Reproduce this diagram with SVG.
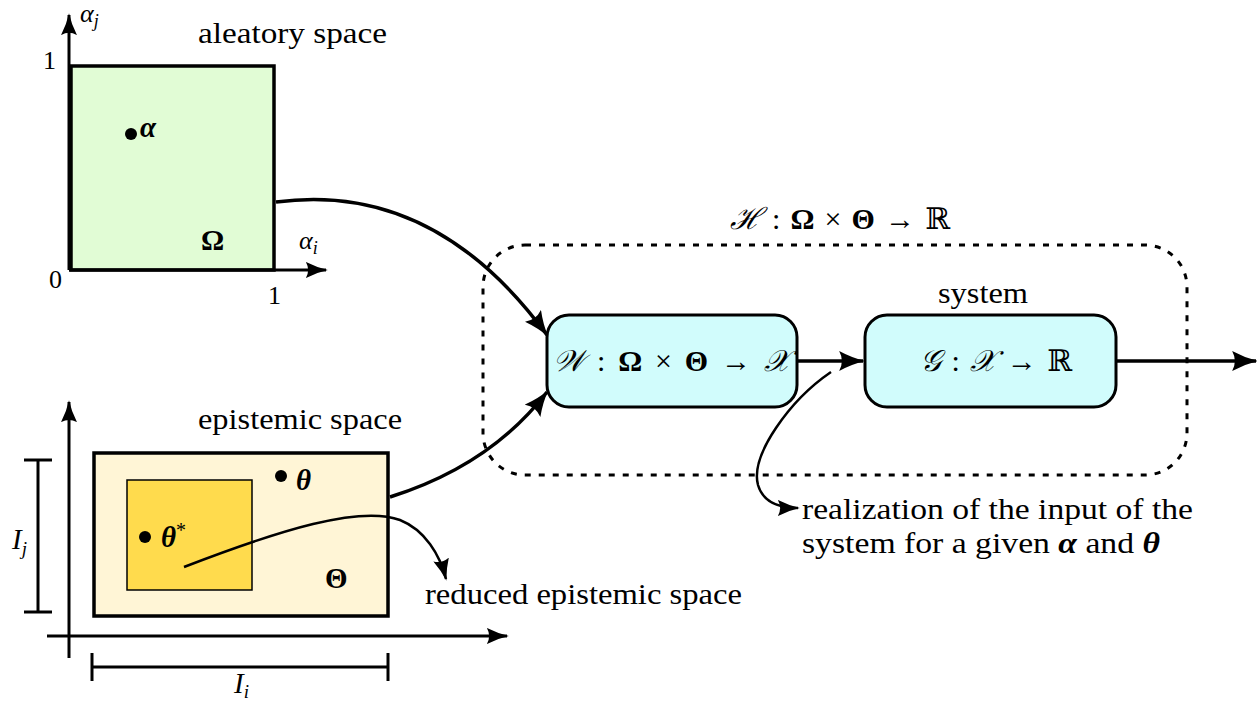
<svg xmlns="http://www.w3.org/2000/svg" width="1257" height="702" viewBox="0 0 1257 702" font-family="'Liberation Serif', serif">
<style>
text{font-family:"Liberation Serif","DejaVu Serif",serif;font-size:29px;fill:#000}
.s{font-size:26px}
.mt{font-size:30px}
.m{font-style:italic}
.b{font-weight:bold}
.bi{font-weight:bold;font-style:italic}
.ax{stroke:#000;stroke-width:3;fill:none}
.th{stroke:#000;stroke-width:3.5;fill:none}
.tn{stroke:#000;stroke-width:2.5;fill:none}
</style>
<defs>
<marker id="ahL" viewBox="0 0 12 10" refX="11" refY="5" markerWidth="26" markerHeight="20" markerUnits="userSpaceOnUse" orient="auto" preserveAspectRatio="none">
<path d="M0,0 Q6,3.5 12,5 Q6,6.5 0,10 Q2.5,5 0,0 Z" fill="#000"/>
</marker>
<marker id="ahS" viewBox="0 0 12 10" refX="11" refY="5" markerWidth="22" markerHeight="16" markerUnits="userSpaceOnUse" orient="auto" preserveAspectRatio="none">
<path d="M0,0 Q6,3.5 12,5 Q6,6.5 0,10 Q2.5,5 0,0 Z" fill="#000"/>
</marker>
</defs>

<g id="aleatory">
<rect x="71" y="66" width="203" height="204" fill="#e1fcd5" stroke="#000" stroke-width="3.5"/>
<line class="ax" x1="69" y1="270" x2="69" y2="15" marker-end="url(#ahS)"/>
<line class="ax" x1="69" y1="270" x2="326" y2="270" marker-end="url(#ahS)"/>
<text x="80" y="22" class="s m">α<tspan font-size="18" dy="5">j</tspan></text>
<text x="43" y="69" class="s">1</text>
<text x="49" y="288" class="s">0</text>
<text x="268" y="304" class="s">1</text>
<text x="299" y="249" class="s m">α<tspan font-size="18" dy="5">i</tspan></text>
<text x="198" y="43" textLength="189" lengthAdjust="spacingAndGlyphs">aleatory space</text>
<circle cx="131" cy="134" r="6"/>
<text x="140" y="137" class="bi" font-size="26">α</text>
<text x="201" y="250" class="b" font-size="27">Ω</text>
</g>

<g id="epistemic">
<rect x="94" y="453" width="294" height="163" fill="#fff5d6" stroke="#000" stroke-width="3.5"/>
<rect x="127" y="480" width="125" height="110" fill="#ffdb4d" stroke="#000" stroke-width="1.5"/>
<line class="ax" x1="69" y1="658" x2="69" y2="402" marker-end="url(#ahS)"/>
<line class="ax" x1="47" y1="636" x2="507" y2="636" marker-end="url(#ahS)"/>
<line class="ax" x1="38" y1="460" x2="38" y2="612"/>
<line class="ax" x1="24" y1="460" x2="52" y2="460"/>
<line class="ax" x1="24" y1="612" x2="52" y2="612"/>
<line class="ax" x1="92" y1="667" x2="388" y2="667"/>
<line class="ax" x1="92" y1="653" x2="92" y2="681"/>
<line class="ax" x1="388" y1="653" x2="388" y2="681"/>
<text x="12" y="549" class="m" font-size="30">I<tspan font-size="19" dy="6">j</tspan></text>
<text x="234" y="693" class="m" font-size="30">I<tspan font-size="19" dy="5">i</tspan></text>
<text x="198" y="429" textLength="204" lengthAdjust="spacingAndGlyphs">epistemic space</text>
<circle cx="281" cy="476" r="6"/>
<text x="296" y="490" class="bi" font-size="27">θ</text>
<circle cx="145" cy="537" r="6"/>
<text x="161" y="547" class="bi" font-size="27">θ<tspan font-weight="normal" font-style="normal" font-size="20" dy="-10">*</tspan></text>
<text x="325" y="588" class="b" font-size="27">Θ</text>
<text x="425" y="604" textLength="317" lengthAdjust="spacingAndGlyphs">reduced epistemic space</text>
</g>

<g id="H">
<rect x="483" y="245" width="704" height="230" rx="42" fill="none" stroke="#000" stroke-width="3" stroke-dasharray="6,8"/>
<text x="730" y="229" class="mt" textLength="220" lengthAdjust="spacing"><tspan class="m">ℋ</tspan> : <tspan class="b">Ω</tspan> × <tspan class="b">Θ</tspan> → ℝ</text>
</g>

<g id="W">
<rect x="547" y="315" width="250" height="92" rx="22" fill="#d1fcfc" stroke="#000" stroke-width="3"/>
<text x="553" y="371" class="mt" textLength="237" lengthAdjust="spacing"><tspan class="m">𝒲</tspan> : <tspan class="b">Ω</tspan> × <tspan class="b">Θ</tspan> → <tspan class="m">𝒳</tspan></text>
</g>

<g id="G">
<rect x="865" y="315" width="251" height="92" rx="22" fill="#d1fcfc" stroke="#000" stroke-width="3"/>
<text x="920" y="371" class="mt" textLength="152" lengthAdjust="spacing"><tspan class="m">𝒢</tspan> : <tspan class="m">𝒳</tspan> → ℝ</text>
<text x="938" y="303" textLength="90" lengthAdjust="spacingAndGlyphs">system</text>
</g>

<g id="realization">
<text x="802" y="519" textLength="391" lengthAdjust="spacingAndGlyphs">realization of the input of the</text>
<text x="802" y="553" textLength="358" lengthAdjust="spacingAndGlyphs">system for a given <tspan class="bi">α</tspan> and <tspan class="bi">θ</tspan></text>
</g>

<g id="connectors">
<path class="th" d="M276,202 C380,188 470,230 547,335" marker-end="url(#ahL)"/>
<path class="th" d="M390,497 C460,475 510,440 547,392" marker-end="url(#ahL)"/>
<path class="th" d="M797,361 L863,361" marker-end="url(#ahL)"/>
<path class="th" d="M1116,361 L1256,361" marker-end="url(#ahL)"/>
<path class="tn" d="M831,372 C790,400 750,455 758,485 C763,502 778,508 798,508" marker-end="url(#ahS)"/>
<path class="tn" d="M184,567 C280,530 360,505 400,520 C425,530 440,555 446,579" marker-end="url(#ahS)"/>
</g>
</svg>
